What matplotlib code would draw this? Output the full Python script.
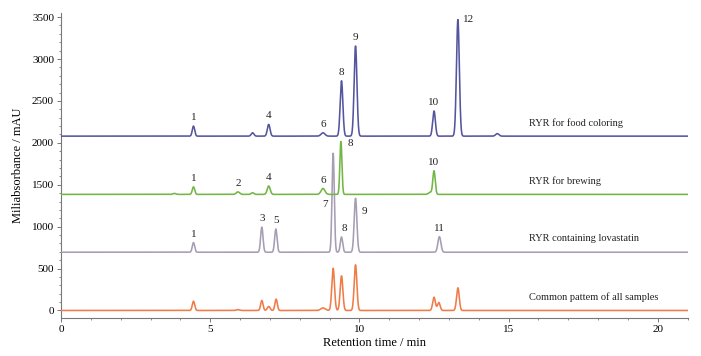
import numpy as np
import matplotlib
matplotlib.use("Agg")
import matplotlib.pyplot as plt
from matplotlib.ticker import MultipleLocator

# ---------------- data ----------------
series_names = ["RYR for food coloring", "RYR for brewing",
                "RYR containing lovastatin", "Common pattem of all samples"]
baselines = [2080, 1385, 695, 0]

# peak retention times (min), heights above baseline (mAU), widths (sigma, min)
food_rt = [4.44, 6.42, 6.96, 8.78, 9.40, 9.87, 12.50, 13.30, 14.62]
food_h = [120, 40, 140, 40, 660, 1075, 300, 1390, 30]
food_w = [0.04, 0.045, 0.045, 0.065, 0.045, 0.047, 0.045, 0.048, 0.055]
food_lab = ["1", "", "4", "6", "8", "9", "10", "12", ""]

brew_rt = [3.80, 4.44, 5.93, 6.42, 6.96, 8.78, 9.38, 12.37, 12.50]
brew_h = [12, 90, 30, 20, 100, 70, 630, 25, 280]
brew_w = [0.045, 0.04, 0.055, 0.045, 0.05, 0.065, 0.034, 0.055, 0.04]
brew_lab = ["", "1", "2", "", "4", "6", "8", "", "10"]

lova_rt = [4.44, 6.73, 7.20, 9.12, 9.40, 9.87, 12.68]
lova_h = [115, 300, 277, 1180, 182, 643, 186]
lova_w = [0.04, 0.04, 0.04, 0.038, 0.04, 0.045, 0.05]
lova_lab = ["1", "3", "5", "7", "8", "9", "11"]

comm_rt = [4.44, 5.93, 6.73, 6.96, 7.21, 8.78, 9.12, 9.40, 9.87, 12.50, 12.66, 13.30]
comm_h = [110, 10, 119, 48, 135, 30, 503, 413, 544, 158, 95, 270]
comm_w = [0.04, 0.055, 0.04, 0.045, 0.04, 0.075, 0.045, 0.045, 0.045, 0.045, 0.045, 0.045]
comm_lab = [""] * 12

x_ticks = [0, 5, 10, 15, 20]
y_ticks = [0, 500, 1000, 1500, 2000, 2500, 3000, 3500]

colors = ["#55559f", "#72b645", "#a79db4", "#ef7c47"]

# label offsets in pixels (layout only)
label_offsets = {
    (0, "12"): (11, -4), (1, "8"): (9, -6),
    (2, "7"): (-8, -56), (2, "9"): (9, -18), (2, "8"): (3, 4),
}

# ---------------- figure ----------------
plt.rcParams["font.family"] = ["Liberation Serif", "DejaVu Serif"]
fig = plt.figure(figsize=(7.01, 3.56), dpi=100)
ax = fig.add_axes([0.087, 0.1067, 0.894, 0.857])

t = np.arange(0, 21.0001, 0.004)
peaks = [(food_rt, food_h, food_w, food_lab),
         (brew_rt, brew_h, brew_w, brew_lab),
         (lova_rt, lova_h, lova_w, lova_lab),
         (comm_rt, comm_h, comm_w, comm_lab)]

for i, (rt, h, w, labs) in enumerate(peaks):
    y = np.full_like(t, float(baselines[i]))
    for r, hh, ww in zip(rt, h, w):
        y += hh * np.exp(-0.5 * ((t - r) / ww) ** 2)
    ax.plot(t, y, color=colors[i], lw=1.15, zorder=3 + (1 if i == 1 else 0))
    for r, hh, lab in zip(rt, h, labs):
        if not lab:
            continue
        dx, dy = label_offsets.get((i, lab), (0, 4))
        ax.annotate(lab, (r, baselines[i] + hh), xytext=(dx, dy),
                    textcoords="offset pixels", ha="center", va="bottom",
                    fontsize=8, color="#222222")
    ax.text(15.67, baselines[i] + 160, series_names[i], fontsize=7.5,
            ha="left", va="center", color="#222222")

ax.set_xlim(0, 21)
ax.set_ylim(-90, 3550)
ax.set_xticks(x_ticks)
ax.set_yticks(y_ticks)
ax.xaxis.set_minor_locator(MultipleLocator(1))
ax.yaxis.set_minor_locator(MultipleLocator(100))
for s in ["top", "right"]:
    ax.spines[s].set_visible(False)
for s in ["left", "bottom"]:
    ax.spines[s].set_color("#777777")
    ax.spines[s].set_linewidth(0.8)
ax.tick_params(axis="both", which="major", length=3, width=0.7,
               color="#777777", labelsize=8, pad=2)
ax.tick_params(axis="both", which="minor", length=1.5, width=0.6,
               color="#777777")
ax.set_xlabel("Retention time / min", fontsize=9, labelpad=2)
ax.set_ylabel("Miliabsorbance / mAU", fontsize=9, labelpad=6)

fig.savefig("out.png", dpi=100)
